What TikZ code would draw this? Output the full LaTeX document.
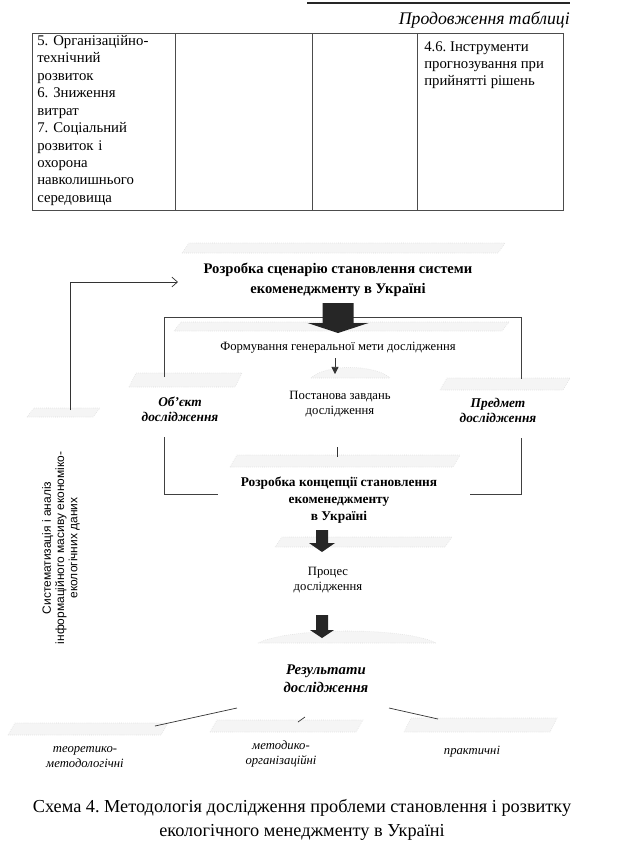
\documentclass[tikz,border=0pt]{standalone}
\usepackage{fontspec}
\setmainfont{Liberation Serif}
\newfontfamily\sidefont{Liberation Sans}
\usetikzlibrary{calc,arrows.meta}
\frenchspacing
\def\facet(#1,#2)(#3,#4){\draw[facet] (#1,#4) -- ({#1+7},#2) -- (#3,#2) -- ({#3-7},#4) -- cycle;}
\def\blockarrow(#1)(#2:#3:#4:#5){\fill[blockfill] ($(#1)+(-#2,0)$) -- ($(#1)+(-#2,#4)$) -- ($(#1)+(-#3,#4)$) -- ($(#1)+(0,#4+#5)$) -- ($(#1)+(#3,#4)$) -- ($(#1)+(#2,#4)$) -- ($(#1)+(#2,0)$) -- cycle;}
\tikzset{
  frame/.style={line width=0.6pt, draw=black!75},
  tableline/.style={line width=0.6pt, draw=black!70},
  facet/.style={draw=black!14, fill=black!4, line width=0.4pt, densely dotted},
  blockfill/.style={fill=black!85},
  link/.style={line width=0.5pt, draw=black!80},
  cell/.style={anchor=north west, align=left, inner sep=0pt, font=\fontsize{10.5}{12.4}\selectfont},
  plain/.style={align=center, inner sep=1pt, font=\fontsize{9}{10.5}\selectfont},
  head/.style={align=center, inner sep=1pt, font=\bfseries\fontsize{10.4}{14}\selectfont},
  emph/.style={align=center, inner sep=1pt, font=\bfseries\itshape\fontsize{9.5}{10.6}\selectfont},
  result/.style={align=center, inner sep=1pt, font=\itshape\fontsize{9}{10.6}\selectfont},
}

\begin{document}
\begin{tikzpicture}[x=0.025cm,y=-0.025cm]
			%%%%% START %%%%%
			\useasboundingbox (0,0) rectangle (630,844);

			% table continued from the previous page
			\draw[line width=1.3pt, black!85] (307,3) -- (570,3);
			\node[anchor=east, inner sep=0pt, font=\itshape\fontsize{12.6}{14}\selectfont] (tabhead) at (570,20) {Продовження таблиці};
			\draw[tableline] (32,33) rectangle (563,210);
			\foreach \x in {175,312,417}
				\draw[tableline] (\x,33) -- (\x,210);
			\node[cell, text width=3.4cm] (cellone) at (37,35) {5. Організаційно-\\технічний\\розвиток\\6. Зниження\\витрат\\7. Соціальний\\розвиток і\\охорона\\навколишнього\\середовища};
			\node[cell] (cellfour) at (424,41) {4.6. Інструменти\\прогнозування при\\прийнятті рішень};

			% faded box tops
			\facet(182,243)(505,253)
			\facet(174,322)(509,331)
			\facet(129,373)(242,387)
			\facet(440,378)(570,390)
			\facet(27,408)(100,417)
			\facet(230,455)(460,467)
			\facet(275,537)(452,547)
			\facet(8,723)(168,735)
			\facet(210,720)(363,732)
			\facet(404,718)(557,732)
			\draw[facet] (311,378) .. controls (325,364) and (375,364) .. (390,378) -- cycle;
			\draw[facet] (258,643) .. controls (290,627) and (405,627) .. (436,643) -- cycle;

			% frame round the goal and tasks
			\draw[frame] (164,377) -- (164,317) -- (521,317) -- (521,379);
			\draw[frame] (164,437) -- (164,494) -- (218,494);
			\draw[frame] (470,494) -- (521,494) -- (521,438);

			% texts
			\node[head] (scen) at (338,280) {Розробка сценарію становлення системи\\екоменеджменту в Україні};
			\node[plain] (goal) at (338,348) {Формування генеральної мети дослідження};
			\node[plain] (task) at (340,404) {Постанова завдань\\дослідження};
			\node[emph] (obj) at (180,409) {Об’єкт\\дослідження};
			\node[emph] (subj) at (498,410) {Предмет\\дослідження};
			\node[align=center, inner sep=1pt, font=\bfseries\fontsize{9.5}{12}\selectfont] (conc) at (339,500) {Розробка концепції становлення\\екоменеджменту\\в Україні};
			\node[plain] (proc) at (328,580) {Процес\\дослідження};
			\node[align=center, inner sep=1pt, font=\bfseries\itshape\fontsize{10.5}{12.8}\selectfont] (res) at (326,679) {Результати\\дослідження};
			\node[result] (teor) at (85,757) {теоретико-\\методологічні};
			\node[result] (meth) at (281,754) {методико-\\організаційні};
			\node[result] (prac) at (472,752) {практичні};
			\node[rotate=90, align=center, inner sep=0pt, font=\sidefont\fontsize{8.5}{9.4}\selectfont] (syst) at (61,548) {Систематизація і аналіз\\інформаційного масиву економіко-\\екологічних даних};

			% feedback arrow
			\coordinate (fbfoot) at (70,410);
			\coordinate (fbend) at (178,282);
			\draw[link, -{Straight Barb[length=4pt,width=7pt]}] (fbfoot) |- (fbend);

			% block arrows
			\coordinate (baone) at (338,303);
			\blockarrow(baone)(15.5:30.5:20:10)
			\coordinate (batwo) at (322,530);
			\blockarrow(batwo)(6:13:13:9)
			\coordinate (bathree) at (322,615);
			\blockarrow(bathree)(6:12:15:8)

			% small links
			\coordinate (gtop) at (335,358);
			\coordinate (gbot) at (335,374);
			\draw[link, -{Triangle[length=5pt,width=5pt]}] (gtop) -- (gbot);
			\coordinate (ttop) at (337,447);
			\coordinate (tbot) at (337,457);
			\draw[link] (ttop) -- (tbot);

			% results branches
			\coordinate (rlone) at (237,708);
			\coordinate (rltwo) at (155,726);
			\coordinate (rmone) at (305,717);
			\coordinate (rmtwo) at (298,722);
			\coordinate (rrone) at (389,708);
			\coordinate (rrtwo) at (438,719);
			\draw[link] (rlone) -- (rltwo);
			\draw[link] (rmone) -- (rmtwo);
			\draw[link] (rrone) -- (rrtwo);

			% caption
			\node[align=center, inner sep=0pt, font=\fontsize{13}{17}\selectfont] (capt) at (302,820) {Схема 4. Методологія дослідження проблеми становлення і розвитку\\екологічного менеджменту в Україні};
			%%%%% END %%%%%
\end{tikzpicture}
\end{document}
